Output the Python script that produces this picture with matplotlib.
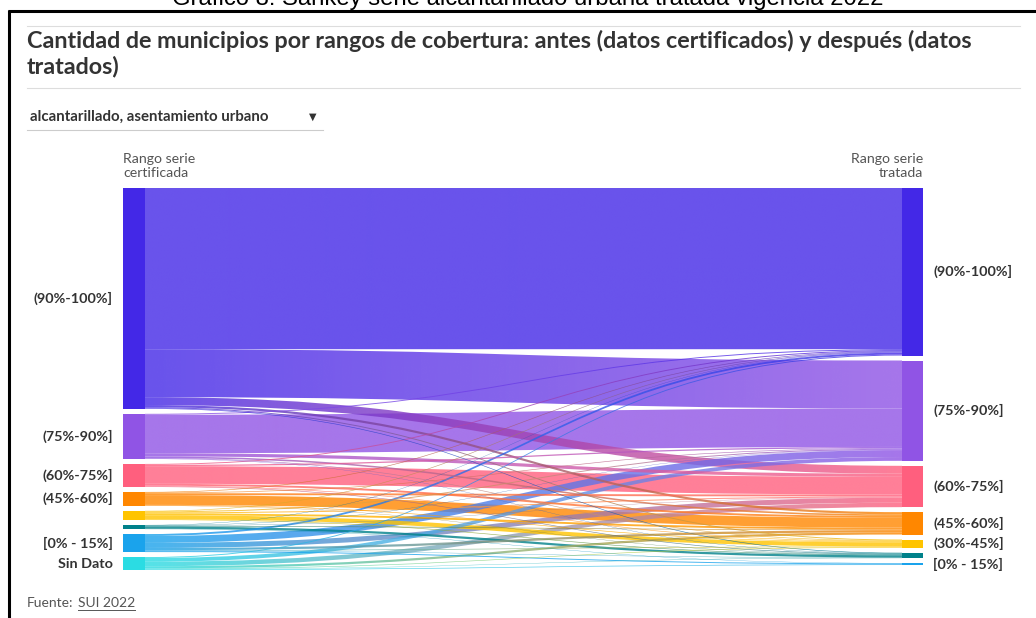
import numpy as np
import matplotlib
matplotlib.use("Agg")
import matplotlib.pyplot as plt
from matplotlib.path import Path
from matplotlib.patches import PathPatch, Rectangle
import matplotlib.colors as mcolors

# categories (same order on both sides)
categories = ["(90%-100%]", "(75%-90%]", "(60%-75%]", "(45%-60%]",
              "(30%-45%]", "(15%-30%]", "[0% - 15%]", "Sin Dato"]
node_colors = ["#4328e7", "#9054e5", "#ff5f7e", "#ff8700",
               "#ffc400", "#00818a", "#1aa3ec", "#2bdce3"]

# municipalities: rows = certified range, cols = treated range
flows = [
    [511, 152, 25, 7, 3, 2, 0, 0],
    [3, 122, 10, 5, 2, 1, 0, 0],
    [3, 4, 56, 6, 2, 2, 0, 0],
    [2, 2, 6, 31, 2, 1, 0, 0],
    [2, 3, 3, 6, 13, 2, 0, 0],
    [1, 1, 1, 2, 0, 7, 1, 0],
    [6, 22, 16, 7, 2, 1, 3, 0],
    [3, 12, 14, 7, 2, 1, 2, 0],
]
show_left = [True, True, True, True, False, False, True, True]
show_right = [True, True, True, True, True, False, True, False]

title_lines = ["Cantidad de municipios por rangos de cobertura: antes (datos certificados) y después (datos",
               "tratados)"]
caption = "Gráfico 8: Sankey serie alcantarillado urbana tratada vigencia 2022"
dropdown = "alcantarillado, asentamiento urbano"

F = np.array(flows, dtype=float)
left_tot = F.sum(axis=1)
right_tot = F.sum(axis=0)

fig = plt.figure(figsize=(10.36, 6.18), dpi=100)
ax = fig.add_axes([0, 0, 1, 1])
ax.set_xlim(0, 1036)
ax.set_ylim(618, 0)
ax.axis("off")

# layout of the sankey (pixel units)
top, bottom, pad = 188, 570, 5
xl0, xl1 = 123, 145
xr0, xr1 = 902, 923
n_left = (left_tot > 0).sum()
k = (bottom - top - pad * (n_left - 1)) / left_tot.sum()


def stack(totals):
    pos = []
    y = top
    for t in totals:
        if t > 0:
            pos.append((y, y + t * k))
            y += t * k + pad
        else:
            pos.append(None)
    return pos


lpos = stack(left_tot)
rpos = stack(right_tot)

# link offsets
src_off = [p[0] if p else 0 for p in lpos]
tgt_off = [p[0] if p else 0 for p in rpos]
links = []
for i in range(len(categories)):
    for j in range(len(categories)):
        if F[i, j] > 0:
            links.append([i, j, F[i, j]])
link_geo = {}
for i, j, v in sorted(links, key=lambda l: (l[0], l[1])):
    h = v * k
    link_geo[(i, j)] = [src_off[i], src_off[i] + h, 0, 0]
    src_off[i] += h
for i, j, v in sorted(links, key=lambda l: (l[1], l[0])):
    h = v * k
    link_geo[(i, j)][2] = tgt_off[j]
    link_geo[(i, j)][3] = tgt_off[j] + h
    tgt_off[j] += h

xm = (xl1 + xr0) / 2
alpha = 0.8
for i, j, v in sorted(links, key=lambda l: -l[2]):
    s0, s1, t0, t1 = link_geo[(i, j)]
    verts = [(xl1, s0), (xm, s0), (xm, t0), (xr0, t0),
             (xr0, t1), (xm, t1), (xm, s1), (xl1, s1), (xl1, s0)]
    codes = [Path.MOVETO, Path.CURVE4, Path.CURVE4, Path.CURVE4,
             Path.LINETO, Path.CURVE4, Path.CURVE4, Path.CURVE4, Path.CLOSEPOLY]
    patch = PathPatch(Path(verts, codes), facecolor="none", edgecolor="none")
    ax.add_patch(patch)
    cs = np.array(mcolors.to_rgb(node_colors[i]))
    ct = np.array(mcolors.to_rgb(node_colors[j]))
    t = np.linspace(0, 1, 256)[:, None]
    grad = np.ones((1, 256, 4))
    grad[0, :, :3] = (1 - t) * cs + t * ct
    grad[0, :, 3] = alpha
    ymin, ymax = min(s0, t0), max(s1, t1)
    im = ax.imshow(grad, extent=[xl1, xr0, ymax + 1, ymin - 1], aspect="auto",
                   interpolation="bilinear", zorder=2)
    im.set_clip_path(patch)

label_kw = dict(fontsize=10.4, fontweight="bold", color="#333333", family="Lato")
for idx, p in enumerate(lpos):
    if p:
        ax.add_patch(Rectangle((xl0, p[0]), xl1 - xl0, p[1] - p[0],
                               facecolor=node_colors[idx], edgecolor="none", zorder=3))
        if show_left[idx]:
            ax.text(113, (p[0] + p[1]) / 2, categories[idx], ha="right", va="center", **label_kw)
for idx, p in enumerate(rpos):
    if p:
        ax.add_patch(Rectangle((xr0, p[0]), xr1 - xr0, p[1] - p[0],
                               facecolor=node_colors[idx], edgecolor="none", zorder=3))
        if show_right[idx]:
            ax.text(933, (p[0] + p[1]) / 2, categories[idx], ha="left", va="center", **label_kw)

ax.text(xl0, 166, "Rango serie\ncertificada", ha="left", va="center", fontsize=10.2,
        color="#555555", family="Lato", linespacing=1.15)
ax.text(xr1, 166, "Rango serie\ntratada", ha="right", va="center", fontsize=10.2,
        color="#555555", family="Lato", linespacing=1.15, multialignment="right")

# header / frame
ax.text(528, 5, caption, ha="center", va="baseline", fontsize=17.2,
        family="Liberation Sans", color="#000000")
ax.plot([8, 1036], [10.5, 10.5], color="black", lw=2.2, solid_capstyle="butt", zorder=5)
ax.plot([8.5, 8.5], [10, 618], color="black", lw=2.2, solid_capstyle="butt", zorder=5)
ax.plot([27, 1020], [26, 26], color="#dddddd", lw=0.8)
ax.plot([27, 1020], [88, 88], color="#dddddd", lw=0.8)
for n, line in enumerate(title_lines):
    ax.text(27, 48 + 25 * n, line, ha="left", va="baseline", fontsize=16.8, fontweight="bold",
            family="Lato", color="#333333")

ax.text(30, 117, dropdown, ha="left", va="center", fontsize=10.8, fontweight="bold",
        family="Lato", color="#333333")
ax.text(313, 117, "▼", ha="center", va="center", fontsize=7, family="DejaVu Sans", color="#333333")
ax.plot([27, 323], [130, 130], color="#cccccc", lw=0.8)

fu = ax.text(27, 603, "Fuente:", ha="left", va="center", fontsize=10, family="Lato", color="#555555")
fig.canvas.draw()
fb = fu.get_window_extent().transformed(ax.transData.inverted())
src = ax.text(fb.x1 + 4, 603, "SUI 2022", ha="left", va="center", fontsize=10,
              family="Lato", color="#555555")
fig.canvas.draw()
bb = src.get_window_extent().transformed(ax.transData.inverted())
ax.plot([bb.x0, bb.x1], [610, 610], color="#555555", lw=0.7)

ax.set_xlim(0, 1036)
ax.set_ylim(618, 0)
fig.savefig("out.png", dpi=100)
